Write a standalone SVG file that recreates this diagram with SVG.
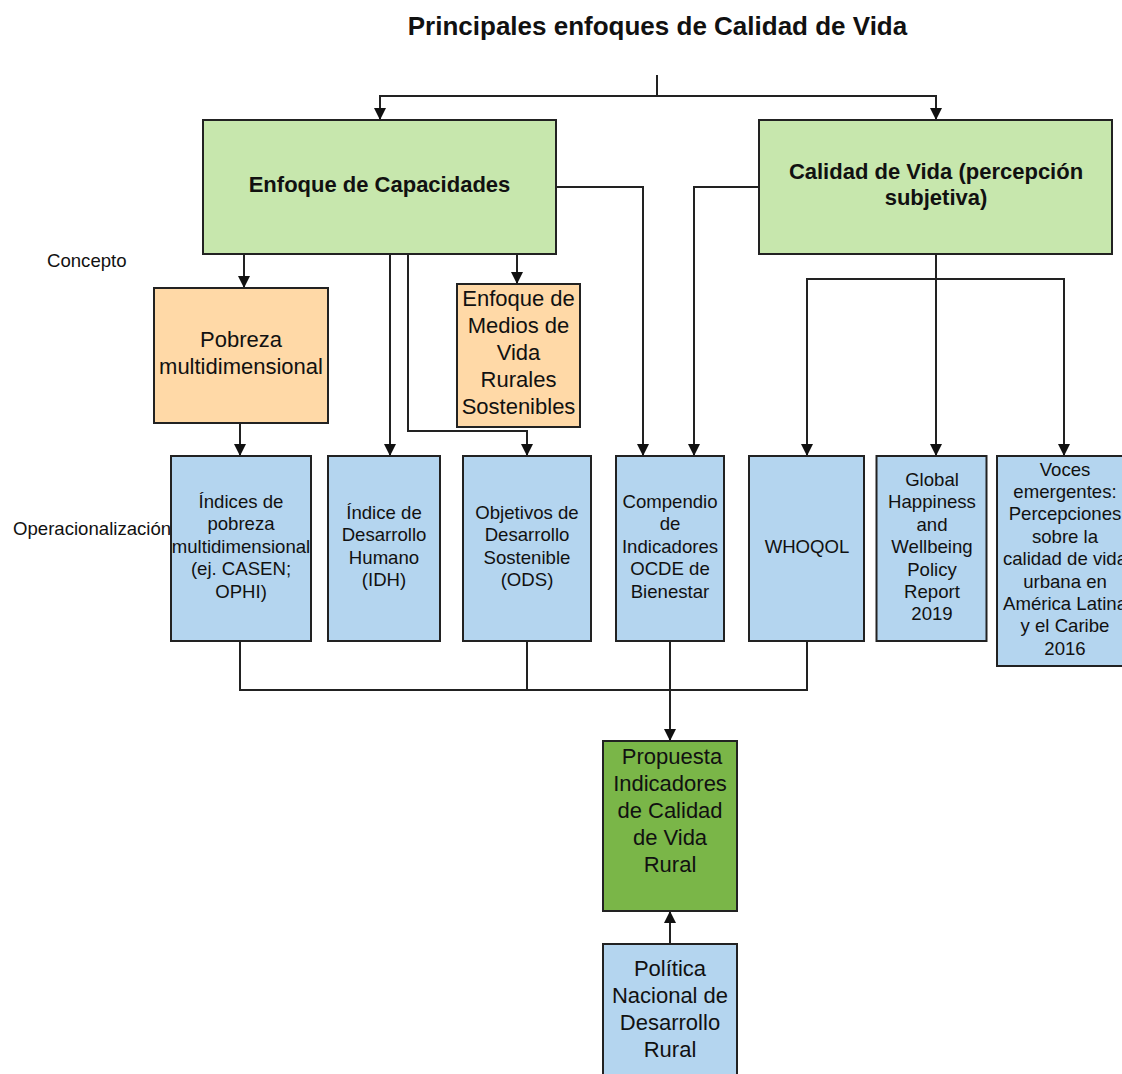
<svg xmlns="http://www.w3.org/2000/svg" width="1122" height="1074" viewBox="0 0 1122 1074">
<defs>
<marker id="arr" markerUnits="userSpaceOnUse" markerWidth="12" markerHeight="14" viewBox="0 0 12 14" refX="12" refY="7" orient="auto">
<path d="M0,1 L12,7 L0,13 Z" fill="#111"/>
</marker>
<style>
.box{stroke:#222;stroke-width:2}
.g{fill:#c7e7ad}
.o{fill:#ffd9a7}
.b{fill:#b4d5ef}
.dg{fill:#7ab648}
.t{font-family:"Liberation Sans",Arial,sans-serif;fill:#111;text-anchor:middle}
.bold{font-weight:bold;font-size:22px}
.l{font-size:22px}
.s{font-size:18.6px}
.lab{font-family:"Liberation Sans",Arial,sans-serif;fill:#111;font-size:18.6px}
.c{fill:none;stroke:#222;stroke-width:2}
</style>
</defs>
<rect width="1122" height="1074" fill="#fff"/>
<text class="t" x="657.5" y="35" style="font-weight:bold;font-size:26px">Principales enfoques de Calidad de Vida</text>
<text class="lab" x="47" y="267">Concepto</text>
<text class="lab" x="13" y="535">Operacionalización</text>

<g id="connectors">
<path class="c" d="M657,75 V96 H380 V120" marker-end="url(#arr)"/>
<path class="c" d="M657,96 H936 V120" marker-end="url(#arr)"/>
<path class="c" d="M244,254 V288" marker-end="url(#arr)"/>
<path class="c" d="M390,254 V456" marker-end="url(#arr)"/>
<path class="c" d="M408,254 V431 H527 V456" marker-end="url(#arr)"/>
<path class="c" d="M517,254 V284" marker-end="url(#arr)"/>
<path class="c" d="M556,187 H643 V456" marker-end="url(#arr)"/>
<path class="c" d="M759,187 H694 V456" marker-end="url(#arr)"/>
<path class="c" d="M240,423 V456" marker-end="url(#arr)"/>
<path class="c" d="M936,254 V456" marker-end="url(#arr)"/>
<path class="c" d="M936,279 H807 V456" marker-end="url(#arr)"/>
<path class="c" d="M936,279 H1064 V456" marker-end="url(#arr)"/>
<path class="c" d="M240,641 V690 H807 V641"/>
<path class="c" d="M527,641 V690"/>
<path class="c" d="M670,641 V741" marker-end="url(#arr)"/>
<path class="c" d="M670,944 V911" marker-end="url(#arr)"/>
</g>

<g id="enfoque-capacidades">
<rect class="box g" x="203" y="120" width="353" height="134"/>
<text class="t bold" x="379.5" y="192">Enfoque de Capacidades</text>
</g>
<g id="calidad-vida">
<rect class="box g" x="759" y="120" width="353" height="134"/>
<text class="t bold" x="936" y="178.5">Calidad de Vida (percepción</text>
<text class="t bold" x="936" y="205">subjetiva)</text>
</g>
<g id="pobreza">
<rect class="box o" x="154" y="288" width="174" height="135"/>
<text class="t l" x="241" y="347">Pobreza</text>
<text class="t l" x="241" y="374">multidimensional</text>
</g>
<g id="medios-vida">
<rect class="box o" x="457" y="284" width="123" height="143"/>
<text class="t l" x="518.5"><tspan x="518.5" y="305.5">Enfoque de</tspan><tspan x="518.5" y="332.5">Medios de</tspan><tspan x="518.5" y="359.5">Vida</tspan><tspan x="518.5" y="386.5">Rurales</tspan><tspan x="518.5" y="413.5">Sostenibles</tspan></text>
</g>
<g id="indices-pobreza">
<rect class="box b" x="171" y="456" width="140" height="185"/>
<text class="t s"><tspan x="241" y="508">Índices de</tspan><tspan x="241" y="530.4">pobreza</tspan><tspan x="241" y="552.8">multidimensional</tspan><tspan x="241" y="575.2">(ej. CASEN;</tspan><tspan x="241" y="597.6">OPHI)</tspan></text>
</g>
<g id="idh">
<rect class="box b" x="328" y="456" width="112" height="185"/>
<text class="t s"><tspan x="384" y="519">Índice de</tspan><tspan x="384" y="541.4">Desarrollo</tspan><tspan x="384" y="563.8">Humano</tspan><tspan x="384" y="586.2">(IDH)</tspan></text>
</g>
<g id="ods">
<rect class="box b" x="463" y="456" width="128" height="185"/>
<text class="t s"><tspan x="527" y="519">Objetivos de</tspan><tspan x="527" y="541.4">Desarrollo</tspan><tspan x="527" y="563.8">Sostenible</tspan><tspan x="527" y="586.2">(ODS)</tspan></text>
</g>
<g id="ocde">
<rect class="box b" x="616" y="456" width="108" height="185"/>
<text class="t s"><tspan x="670" y="508">Compendio</tspan><tspan x="670" y="530.4">de</tspan><tspan x="670" y="552.8">Indicadores</tspan><tspan x="670" y="575.2">OCDE de</tspan><tspan x="670" y="597.6">Bienestar</tspan></text>
</g>
<g id="whoqol">
<rect class="box b" x="749" y="456" width="115" height="185"/>
<text class="t s" x="807" y="552.8">WHOQOL</text>
</g>
<g id="global-happiness">
<rect class="box b" x="876.5" y="456" width="110" height="185"/>
<text class="t s"><tspan x="932" y="486">Global</tspan><tspan x="932" y="508.4">Happiness</tspan><tspan x="932" y="530.8">and</tspan><tspan x="932" y="553.2">Wellbeing</tspan><tspan x="932" y="575.6">Policy</tspan><tspan x="932" y="598">Report</tspan><tspan x="932" y="620.4">2019</tspan></text>
</g>
<g id="voces-emergentes">
<rect class="box b" x="997" y="456" width="136" height="210"/>
<text class="t s"><tspan x="1065" y="475.5">Voces</tspan><tspan x="1065" y="497.9">emergentes:</tspan><tspan x="1065" y="520.3">Percepciones</tspan><tspan x="1065" y="542.7">sobre la</tspan><tspan x="1065" y="565.1">calidad de vida</tspan><tspan x="1065" y="587.5">urbana en</tspan><tspan x="1065" y="609.9">América Latina</tspan><tspan x="1065" y="632.3">y el Caribe</tspan><tspan x="1065" y="654.7">2016</tspan></text>
</g>
<g id="propuesta">
<rect class="box dg" x="603" y="741" width="134" height="170"/>
<text class="t l"><tspan x="672" y="763.5">Propuesta</tspan><tspan x="670" y="790.5">Indicadores</tspan><tspan x="670" y="817.5">de Calidad</tspan><tspan x="670" y="844.5">de Vida</tspan><tspan x="670" y="871.5">Rural</tspan></text>
</g>
<g id="politica">
<rect class="box b" x="603" y="944" width="134" height="140"/>
<text class="t l"><tspan x="670" y="975.5">Política</tspan><tspan x="670" y="1002.5">Nacional de</tspan><tspan x="670" y="1029.5">Desarrollo</tspan><tspan x="670" y="1056.5">Rural</tspan></text>
</g>
</svg>
